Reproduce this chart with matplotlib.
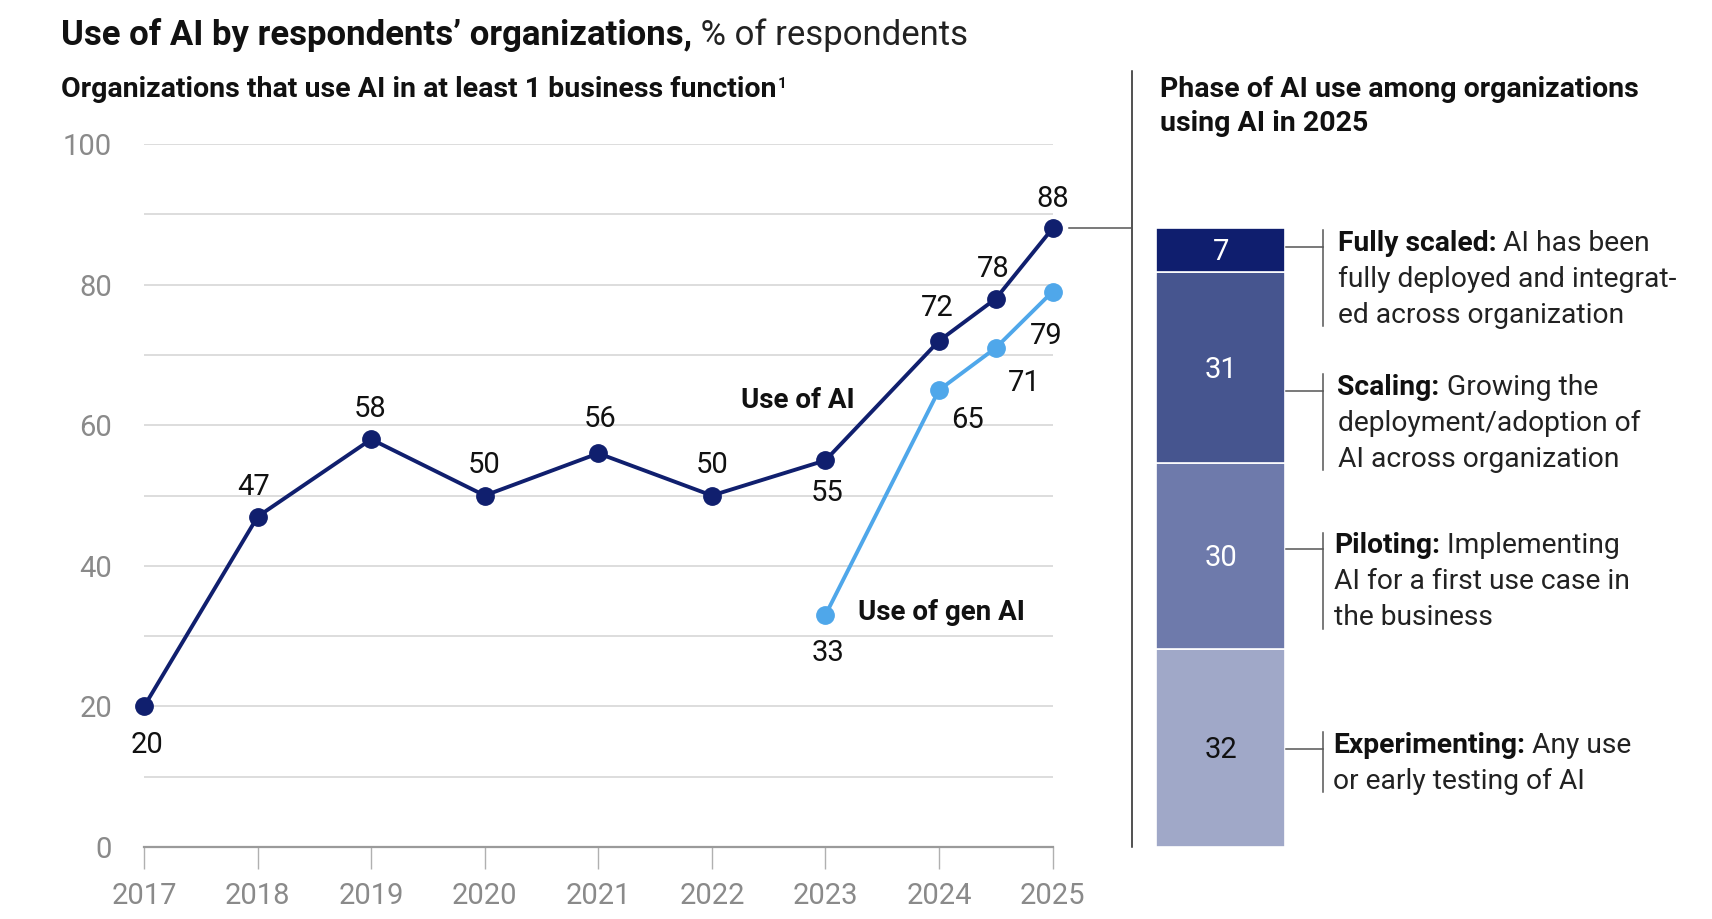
import numpy as np
import matplotlib.pyplot as plt
from matplotlib.lines import Line2D
from matplotlib.transforms import blended_transform_factory

plt.rcParams['font.family'] = ['Roboto', 'DejaVu Sans']

# data
years_ai = [2017, 2018, 2019, 2020, 2021, 2022, 2023, 2024, 2024.5, 2025]
use_ai = [20, 47, 58, 50, 56, 50, 55, 72, 78, 88]
years_gen = [2023, 2024, 2024.5, 2025]
use_gen = [33, 65, 71, 79]
tick_years = [2017, 2018, 2019, 2020, 2021, 2022, 2023, 2024, 2025]

phases = ["Experimenting", "Piloting", "Scaling", "Fully scaled"]
phase_vals = [32, 30, 31, 7]
phase_desc = [
    ["Any use", "or early testing of AI"],
    ["Implementing", "AI for a first use case in", "the business"],
    ["Growing the", "deployment/adoption of", "AI across organization"],
    ["AI has been", "fully deployed and integrat-", "ed across organization"],
]

navy = "#101f6e"
light = "#4fa7ea"
bar_colors = ["#a0a8c8", "#6e7aab", "#46558f", "#0f1e6e"]
grey = "#8a8a8a"

# layout helpers (reference measured on a 1568x842 view)
W, H = 1568, 842
def fx(x): return x / W
def fy(y): return 1 - (y + 2) / H
PT = 1712 / W * 0.72  # view px -> points

fig = plt.figure(figsize=(17.12, 9.19), dpi=100)

ax = fig.add_axes([fx(132), 1 - 776 / H, fx(964) - fx(132), (776 - 132) / H])
ax.set_xlim(2017, 2025)
ax.set_ylim(0, 100)
for v in range(10, 101, 10):
    ax.axhline(v, color="#d3d3d3", lw=1.1, zorder=0)
for s in ["top", "right", "left"]:
    ax.spines[s].set_visible(False)
ax.spines["bottom"].set_color("#9a9a9a")
ax.spines["bottom"].set_linewidth(1.6)
ax.set_xticks(tick_years)
ax.set_xticklabels([str(y) for y in tick_years])
ax.set_yticks([0, 20, 40, 60, 80, 100])
ax.tick_params(axis="x", length=16, width=1, color="#b0b0b0", pad=9,
               labelsize=21, labelcolor=grey)
ax.tick_params(axis="y", length=0, pad=23, labelsize=21, labelcolor=grey)

ax.plot(years_ai, use_ai, color=navy, lw=2.8, marker="o", ms=12.5,
        clip_on=False, zorder=3)
ax.plot(years_gen, use_gen, color=light, lw=2.8, marker="o", ms=12.5,
        clip_on=False, zorder=3)

ai_off = [(3, -35), (-4, 27), (-1, 28), (-1, 28), (2, 31), (0, 28), (2, -30),
          (-2, 30), (-2, 27), (0, 27)]
gen_off = [(2, -35), (26, -27), (26, -32), (-6, -41)]
for x, y, o in zip(years_ai, use_ai, ai_off):
    ax.annotate(str(y), (x, y), xytext=(o[0] * PT, o[1] * PT),
                textcoords="offset points", ha="center", va="center",
                fontsize=21, color="#111111")
for x, y, o in zip(years_gen, use_gen, gen_off):
    ax.annotate(str(y), (x, y), xytext=(o[0] * PT, o[1] * PT),
                textcoords="offset points", ha="center", va="center",
                fontsize=21, color="#111111")

ax.text(2022.76, 63.5, "Use of AI", fontsize=20, fontweight="bold",
        ha="center", va="center", color="#111111")
ax.text(2024.02, 33.4, "Use of gen AI", fontsize=20, fontweight="bold",
        ha="center", va="center", color="#111111")

# titles
t = fig.text(fx(56), fy(30), "Use of AI by respondents\u2019 organizations,",
             fontsize=25, fontweight="bold", va="center", color="#111111")
ax.annotate(" % of respondents", xy=(1, 0), xycoords=t, va="bottom",
            fontsize=25, color="#222222", annotation_clip=False)
st = fig.text(fx(56), fy(80), "Organizations that use AI in at least 1 business function",
              fontsize=20.5, fontweight="bold", va="center", color="#111111")
ax.annotate("1", xy=(1, 1), xycoords=st, xytext=(1, -1),
            textcoords="offset points", va="top", fontsize=11,
            fontweight="bold", color="#111111", annotation_clip=False)
fig.text(fx(1062), fy(80), "Phase of AI use among organizations",
         fontsize=20.5, fontweight="bold", va="center", color="#111111")
fig.text(fx(1062), fy(111), "using AI in 2025",
         fontsize=20.5, fontweight="bold", va="center", color="#111111")

# separator and connector from the 2025 point
fig.add_artist(Line2D([fx(1037), fx(1037)], [1 - 65 / H, 1 - 776 / H],
                      color="#222222", lw=1.1))
tr = blended_transform_factory(fig.transFigure, ax.transData)
fig.add_artist(Line2D([fx(979), fx(1037)], [use_ai[-1], use_ai[-1]],
                      color="#555555", lw=1.1, transform=tr))

# stacked bar, scaled to the share of organizations using AI in 2025
bx = fig.add_axes([fx(1059), 1 - 776 / H, fx(1177) - fx(1059), (776 - 132) / H])
bx.set_xlim(0, 1)
bx.set_ylim(0, 100)
bx.axis("off")
scale = use_ai[-1] / 100
bottom = 0
mids = []
for val, col in zip(phase_vals, bar_colors):
    bx.bar(0.5, val * scale, bottom=bottom, width=1, color=col,
           edgecolor="white", linewidth=1.2)
    mids.append(bottom + val * scale / 2)
    bottom += val * scale
text_cols = ["#111111", "white", "white", "white"]
for val, m, c in zip(phase_vals, mids, text_cols):
    bx.text(0.5, m - 0.3, str(val), ha="center", va="center", fontsize=21,
            color=c)

# phase annotations
first_line_y = [681, 498, 353, 221]
text_x = [1221, 1222, 1225, 1225]
line_gap = 33
for name, desc, y0, x0 in zip(phases, phase_desc, first_line_y, text_x):
    nlines = len(desc)
    fig.add_artist(Line2D([fx(1178), fx(1212)], [fy(y0 + 3), fy(y0 + 3)],
                          color="#555555", lw=1.1))
    fig.add_artist(Line2D([fx(1212), fx(1212)],
                          [fy(y0 - 12), fy(y0 + (nlines - 1) * line_gap + 10)],
                          color="#555555", lw=1.1))
    b = fig.text(fx(x0), fy(y0), name + ":", fontsize=20.3, fontweight="bold",
                 va="center", color="#111111")
    ax.annotate(" " + desc[0], xy=(1, 0), xycoords=b, va="bottom",
                fontsize=20.3, color="#222222", annotation_clip=False)
    for i, line in enumerate(desc[1:], start=1):
        fig.text(fx(x0), fy(y0 + i * line_gap), line, fontsize=20.3,
                 va="center", color="#222222")

fig.savefig("out.png", dpi=100, facecolor="white")
